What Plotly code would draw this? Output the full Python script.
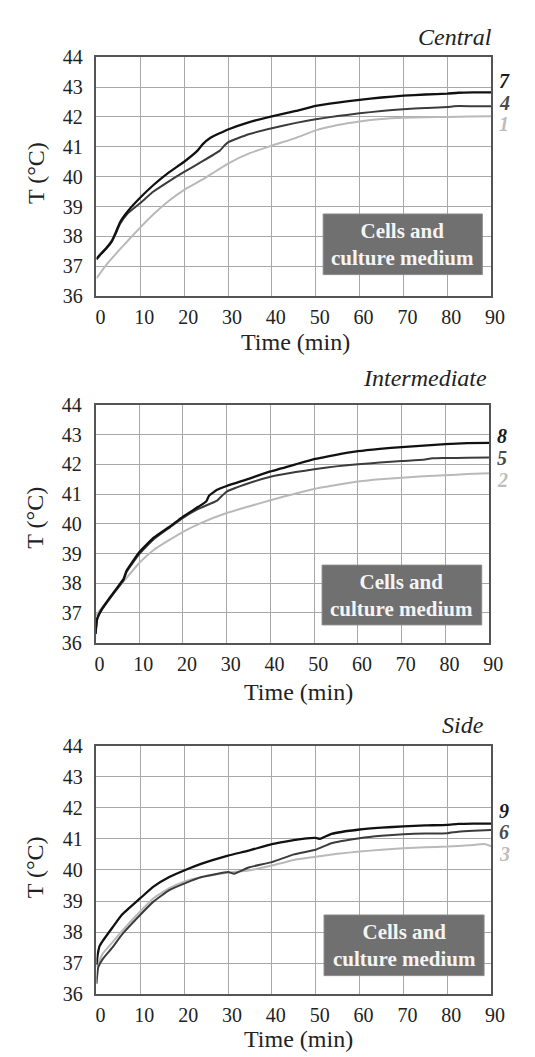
import plotly.graph_objects as go

# ---------------- data ----------------
x_ticks = [0, 10, 20, 30, 40, 50, 60, 70, 80, 90]
y_ticks = [36, 37, 38, 39, 40, 41, 42, 43, 44]
panel_titles = ["Central", "Intermediate", "Side"]
box_text = "Cells and<br>culture medium"

# Central
c7_t = [0, 1, 2.2, 3.5, 4.3, 5.4, 7.2, 10, 13, 16.6, 20, 23.1, 24.2, 26, 30, 34.7, 40, 45.5, 50, 55, 60, 65, 70, 75, 80, 82.5, 86, 90]
c7 = [37.25, 37.42, 37.6, 37.85, 38.1, 38.48, 38.85, 39.3, 39.72, 40.15, 40.5, 40.88, 41.08, 41.3, 41.58, 41.82, 42.02, 42.2, 42.37, 42.48, 42.57, 42.65, 42.71, 42.75, 42.78, 42.81, 42.82, 42.82]
c4_t = [0, 1, 2.2, 3.5, 4.3, 5.4, 7.2, 10, 13, 16.6, 20, 24, 28.2, 29.3, 30, 34.7, 40, 45.5, 50, 55, 60, 65, 70, 75, 80, 81.5, 86, 90]
c4 = [37.22, 37.4, 37.58, 37.82, 38.06, 38.42, 38.78, 39.12, 39.5, 39.85, 40.16, 40.5, 40.88, 41.06, 41.15, 41.42, 41.62, 41.8, 41.92, 42.03, 42.12, 42.2, 42.26, 42.3, 42.33, 42.36, 42.36, 42.36]
c1_t = [0, 2.2, 5.8, 10, 13, 16.6, 20, 24, 30, 34.7, 40, 45.5, 50, 55, 60, 65, 70, 75, 80, 85, 90]
c1 = [36.6, 37.04, 37.64, 38.3, 38.74, 39.2, 39.56, 39.89, 40.44, 40.77, 41.04, 41.3, 41.55, 41.73, 41.85, 41.93, 41.97, 41.99, 42.0, 42.01, 42.02]

# Intermediate
c8_t = [0, 0.4, 1.3, 3.1, 5.3, 6.4, 7.1, 10, 13.3, 17, 20, 23.5, 25.3, 26, 27.8, 30, 35, 40, 45.8, 50, 55, 60, 65, 70, 75, 80, 85, 90]
c8 = [36.3, 36.82, 37.1, 37.48, 37.92, 38.14, 38.42, 39.04, 39.53, 39.91, 40.24, 40.57, 40.75, 40.95, 41.14, 41.27, 41.51, 41.76, 42.0, 42.17, 42.32, 42.44, 42.52, 42.58, 42.63, 42.68, 42.71, 42.72]
c5_t = [0, 0.4, 1.3, 3.1, 5.3, 6.4, 7.1, 10, 13.3, 17, 20, 23.5, 27.8, 29.2, 30, 35, 40, 45.8, 50, 55, 60, 65, 70, 75, 77, 80, 85, 90]
c5 = [36.3, 36.8, 37.07, 37.45, 37.88, 38.1, 38.38, 38.98, 39.48, 39.88, 40.2, 40.5, 40.78, 40.98, 41.08, 41.36, 41.58, 41.74, 41.83, 41.93, 42.0, 42.06, 42.11, 42.15, 42.2, 42.21, 42.22, 42.23]
c2_t = [0, 3.1, 6.8, 10, 13.3, 20, 24.2, 30, 35, 40, 45.8, 50, 55, 60, 65, 70, 75, 80, 85, 90]
c2 = [36.9, 37.48, 38.13, 38.68, 39.12, 39.73, 40.03, 40.36, 40.58, 40.79, 41.02, 41.17, 41.3, 41.42, 41.5, 41.55, 41.6, 41.63, 41.67, 41.7]

# Side
c9_t = [0, 0.3, 0.7, 1.4, 3.6, 5.8, 10, 13, 16.6, 20, 24, 30, 34.7, 40, 45, 47, 50, 51, 53.6, 60, 65, 70, 75, 80, 82.5, 86, 90]
c9 = [36.95, 37.3, 37.55, 37.71, 38.14, 38.56, 39.09, 39.46, 39.77, 39.98, 40.2, 40.46, 40.62, 40.83, 40.96, 41.0, 41.03, 41.0, 41.16, 41.3, 41.36, 41.4, 41.43, 41.45, 41.48, 41.49, 41.49]
c6_t = [0, 0.4, 1.4, 3.6, 5.8, 10, 13, 16.6, 20, 24, 30, 31.4, 34.7, 40, 45, 50, 53.6, 60, 65, 70, 75, 80, 82.5, 86, 90]
c6 = [36.34, 36.87, 37.13, 37.5, 37.92, 38.56, 38.98, 39.35, 39.56, 39.77, 39.93, 39.88, 40.08, 40.25, 40.5, 40.65, 40.86, 41.02, 41.1, 41.15, 41.17, 41.18, 41.23, 41.26, 41.28]
c3_t = [0, 1.4, 3.6, 5.8, 10, 13, 16.6, 20, 24, 30, 34.7, 40, 45, 50, 55, 60, 65, 70, 75, 80, 85, 88.5, 90]
c3 = [36.87, 37.3, 37.66, 38.03, 38.67, 39.09, 39.41, 39.62, 39.77, 39.91, 39.98, 40.14, 40.32, 40.42, 40.52, 40.59, 40.65, 40.7, 40.73, 40.75, 40.79, 40.83, 40.76]

curve_labels = [["1", "4", "7"], ["2", "5", "8"], ["3", "6", "9"]]

# ---------------- layout helpers ----------------
W, H = 535, 1057
FONT = "Liberation Serif, DejaVu Serif"

def px(x):
    return x / W

def py(y):
    return 1 - y / H

# plot area pixel boxes (left, right, top, bottom)
areas = [(90, 496, 39, 283), (89, 494, 394, 637), (90, 496, 742, 996)]
colors = ["#b9b9b9", "#3c3c3c", "#111111"]
widths = [2.0, 2.0, 2.3]
label_colors = ["#bdbdbd", "#4a4a4a", "#1a1a1a"]
label_y = [[41.76, 42.48, 43.19], [41.47, 42.22, 42.95], [40.5, 41.22, 41.9]]
boxes = [(51.7, 88, 36.72, 38.75), (51.8, 88.3, 36.6, 38.61), (51.9, 88.4, 36.6, 38.55)]
title_pos = [(499, 18), (494, 367), (491, 721)]
xtitle_pos = [(295, 330), (298, 687), (298, 1042)]
ytitle_pos = [(27, 157), (27, 509), (27, 866)]

panels = [
    [(c1_t, c1), (c4_t, c4), (c7_t, c7)],
    [(c2_t, c2), (c5_t, c5), (c8_t, c8)],
    [(c3_t, c3), (c6_t, c6), (c9_t, c9)],
]

fig = go.Figure()
annotations = []
shapes = []

for i, curves in enumerate(panels):
    xa = "x" if i == 0 else f"x{i+1}"
    ya = "y" if i == 0 else f"y{i+1}"
    for j, (t, v) in enumerate(curves):
        fig.add_trace(go.Scatter(x=t, y=v, mode="lines", xaxis=xa, yaxis=ya,
                                 line=dict(color=colors[j], width=widths[j], shape="spline", smoothing=0.4),
                                 showlegend=False, hoverinfo="skip"))
        annotations.append(dict(x=90, y=label_y[i][j], xref=xa, yref=ya,
                                text=f"<b><i>{curve_labels[i][j]}</i></b>", showarrow=False,
                                xanchor="center", yanchor="middle", xshift=13,
                                font=dict(family=FONT, size=20, color=label_colors[j])))
    l, r, t_, b = areas[i]
    axis_common = dict(showgrid=True, gridcolor="#a8a8a8", gridwidth=1.2,
                       showline=True, linecolor="#555555", linewidth=1.6, mirror=True,
                       zeroline=False, ticks="", fixedrange=True,
                       tickfont=dict(family=FONT, size=20, color="#222222"))
    fig.update_layout(**{
        ("xaxis" if i == 0 else f"xaxis{i+1}"): dict(
            domain=[px(l), px(r)], anchor=ya, range=[0, 90], tickvals=x_ticks,
            ticklabelshift=4, ticklabelstandoff=2, **axis_common),
        ("yaxis" if i == 0 else f"yaxis{i+1}"): dict(
            domain=[py(b), py(t_)], anchor=xa, range=[36, 44], tickvals=y_ticks,
            ticklabelstandoff=8, **axis_common),
    })
    x0, x1, y0, y1 = boxes[i]
    shapes.append(dict(type="rect", xref=xa, yref=ya, x0=x0, x1=x1, y0=y0, y1=y1,
                       fillcolor="#707070", line=dict(color="#8a8a8a", width=1), layer="above"))
    annotations.append(dict(x=(x0 + x1) / 2, y=(y0 + y1) / 2, xref=xa, yref=ya,
                            text=f"<b>{box_text}</b>", showarrow=False,
                            xanchor="center", yanchor="middle",
                            font=dict(family=FONT, size=21, color="#f4f4f4")))
    tx, ty = title_pos[i]
    annotations.append(dict(x=px(tx), y=py(ty), xref="paper", yref="paper",
                            text=f"<i>{panel_titles[i]}</i>", showarrow=False,
                            xanchor="right", yanchor="middle",
                            font=dict(family=FONT, size=24, color="#222222")))
    xx, xy = xtitle_pos[i]
    annotations.append(dict(x=px(xx), y=py(xy), xref="paper", yref="paper",
                            text="Time (min)", showarrow=False,
                            xanchor="center", yanchor="middle",
                            font=dict(family=FONT, size=24, color="#222222")))
    yx, yy = ytitle_pos[i]
    annotations.append(dict(x=px(yx), y=py(yy), xref="paper", yref="paper",
                            text="T (°C)", showarrow=False, textangle=-90,
                            xanchor="center", yanchor="middle",
                            font=dict(family=FONT, size=24, color="#222222")))

fig.update_layout(width=W, height=H, margin=dict(l=0, r=0, t=0, b=0),
                  paper_bgcolor="white", plot_bgcolor="white",
                  font=dict(family=FONT),
                  annotations=annotations, shapes=shapes, showlegend=False)

fig.write_html("out.html")
